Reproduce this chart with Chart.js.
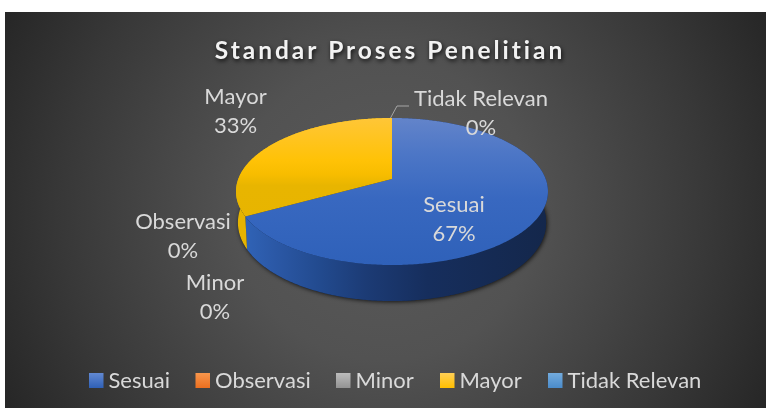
<!DOCTYPE html>
<html><head><meta charset="utf-8">
<style>html,body{margin:0;padding:0;background:#fff}#w{width:766px;height:408px;position:relative}</style>
<script src="https://cdn.jsdelivr.net/npm/chart.js@4"></script></head>
<body><div id="w"><canvas id="c" width="766" height="408"></canvas></div>
<script>
const titleText = 'Standar Proses Penelitian';
const categories = ['Sesuai','Observasi','Minor','Mayor','Tidak Relevan'];
const values = [67,0,0,33,0];
const colors = ['#4472C4','#ED7D31','#A5A5A5','#FFC000','#5B9BD5'];

const FONT = 'Lato, "Open Sans", sans-serif';
// perspective view of the pie disc
const P = {cx:392, cy:179, a:153.7, b:71.4, k:0.17};
function project(angle, depth){ // Chart.js angle: -PI/2 is at the top, clockwise
  const u = Math.cos(angle), v = Math.sin(angle), w = 1 - P.k*v;
  let x = P.a*u/w, y = P.cy + P.b*v/w;
  if (depth){ x *= 0.988; y += 30 + 6*v; }
  return [P.cx + x, y];
}
function arcPath(ctx, s, e, depth, forward){
  const n = Math.max(2, Math.ceil(Math.abs(e-s)/0.01));
  for (let i=0;i<=n;i++){
    const t = forward ? s+(e-s)*i/n : e-(e-s)*i/n;
    const p = project(t, depth);
    ctx.lineTo(p[0], p[1]);
  }
}
function grad(ctx,x0,y0,x1,y1,stops){
  const g = ctx.createLinearGradient(x0,y0,x1,y1);
  stops.forEach(s=>g.addColorStop(s[0],s[1]));
  return g;
}
const topShade = {
  '#4472C4':[[0,'#6384ca'],[0.25,'#4c76c6'],[0.55,'#3868c0'],[1,'#2f61b9']],
  '#FFC000':[[0,'#ffc637'],[0.29,'#ffc206'],[0.38,'#f8bd00'],[0.46,'#e8b500'],[1,'#e6b400']]
};
const sideShade = {
  '#4472C4':[[0,'#3063b6'],[0.1,'#2b58a6'],[0.25,'#224a8e'],[0.4,'#1c3b75'],[0.6,'#162e5d'],[1,'#14274b']],
  '#FFC000':[[0,'#e6b400'],[1,'#d8a800']]
};
const swatch = [['#6289d2','#2f60b6'],['#f8964c','#ec6f1f'],['#bcbcbc','#939393'],['#ffcf55','#ffbf00'],['#73abdd','#4a8bca']];

function text(ctx,str,x,y,align,font,color,spacing){
  ctx.save();
  ctx.font = font; ctx.fillStyle = color; ctx.textAlign = align; ctx.textBaseline='alphabetic';
  if (spacing) ctx.letterSpacing = spacing+'px';
  ctx.fillText(str,x,y);
  ctx.restore();
}

const pie3d = {
  id:'pie3d',
  beforeDraw(chart){
    const ctx = chart.ctx;
    ctx.save();
    ctx.fillStyle='#fff'; ctx.fillRect(0,0,766,408);
    const g = ctx.createRadialGradient(385,210,0,385,210,430);
    g.addColorStop(0,'#5a5a5a'); g.addColorStop(0.35,'#525252'); g.addColorStop(0.75,'#383838'); g.addColorStop(1,'#262626');
    ctx.fillStyle=g; ctx.fillRect(5,12,761,396);
    ctx.restore();
  },
  beforeDatasetDraw(chart,args){
    const ctx = chart.ctx, arcs = chart.getDatasetMeta(args.index).data;
    const col = chart.data.datasets[args.index].backgroundColor;
    const live = arcs.map((a,i)=>({s:a.startAngle,e:a.endAngle,c:col[i]})).filter(a=>a.e-a.s>1e-6);
    ctx.save();
    // soft shadow under the disc
    ctx.save();
    ctx.shadowColor='rgba(0,0,0,0.75)'; ctx.shadowBlur=4; ctx.shadowOffsetX=1; ctx.shadowOffsetY=1;
    ctx.fillStyle='#14274b';
    ctx.beginPath(); arcPath(ctx,-Math.PI/2,Math.PI*1.5,true,true); ctx.closePath(); ctx.fill();
    ctx.restore();
    // side walls
    live.forEach(a=>{
      ctx.beginPath(); arcPath(ctx,a.s,a.e,false,true); arcPath(ctx,a.s,a.e,true,false); ctx.closePath();
      ctx.fillStyle = grad(ctx,245,0,548,0,sideShade[a.c]); ctx.fill();
    });
    // top faces
    live.forEach(a=>{
      ctx.beginPath(); ctx.moveTo(P.cx,P.cy); arcPath(ctx,a.s,a.e,false,true); ctx.closePath();
      ctx.fillStyle = grad(ctx,0,118,0,265,topShade[a.c]); ctx.fill();
    });
    ctx.restore();
    return false;
  },
  afterDraw(chart){
    const ctx = chart.ctx, ds = chart.data.datasets[0].data;
    const total = ds.reduce((a,b)=>a+b,0);
    // title
    ctx.save();
    ctx.shadowColor='rgba(0,0,0,0.8)'; ctx.shadowBlur=4; ctx.shadowOffsetX=1; ctx.shadowOffsetY=2;
    text(ctx,titleText,390,59,'center','bold 24.5px '+FONT,'#f2f2f2',2.95);
    ctx.restore();
    // data labels
    const lab = {Sesuai:[454,212],Observasi:[183,229],Minor:[215,290],Mayor:[235.5,104],'Tidak Relevan':[481,106]};
    chart.data.labels.forEach((n,i)=>{
      const p = lab[n], f = '22px '+FONT;
      text(ctx,n,p[0],p[1],'center',f,'#d9d9d9');
      text(ctx,Math.round(ds[i]/total*100)+'%',p[0],p[1]+29,'center',f,'#d9d9d9');
    });
    // leader line
    ctx.strokeStyle='#a6a6a6'; ctx.lineWidth=1;
    ctx.beginPath(); ctx.moveTo(390.5,118); ctx.lineTo(397,106); ctx.lineTo(409,106); ctx.stroke();
    // legend
    const lx = [89,195.5,336,440,548];
    chart.data.labels.forEach((n,i)=>{
      ctx.fillStyle = grad(ctx,0,373,0,388,[[0,swatch[i][0]],[1,swatch[i][1]]]);
      ctx.fillRect(lx[i],373,14.5,15);
      text(ctx,n,lx[i]+19.5,388,'left','22px '+FONT,'#d9d9d9');
    });
  }
};

new Chart(document.getElementById('c'),{
  type:'pie',
  data:{labels:categories,datasets:[{data:values,backgroundColor:colors,borderWidth:0}]},
  options:{responsive:false,animation:false,rotation:0,
    plugins:{legend:{display:false},title:{display:false,text:titleText},tooltip:{enabled:false}}},
  plugins:[pie3d]
});
</script></body></html>
